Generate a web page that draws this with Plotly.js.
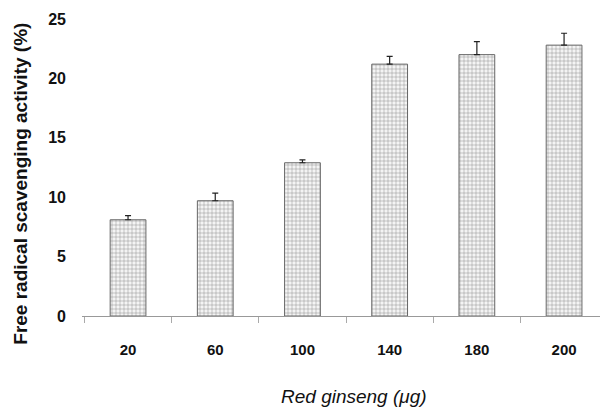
<!DOCTYPE html>
<html>
<head>
<meta charset="utf-8">
<script src="https://cdn.plot.ly/plotly-3.0.1.min.js"></script>
<style>html,body{margin:0;padding:0;background:#fff;}#chart{width:600px;height:407px;}</style>
</head>
<body>
<div id="chart"></div>
<script>
const categories = ["20", "60", "100", "140", "180", "200"];
const activity = [8.1, 9.7, 12.9, 21.2, 22.0, 22.8];
const errorUp = [0.35, 0.65, 0.25, 0.65, 1.1, 1.0];
const yTicks = [0, 5, 10, 15, 20, 25];
const xTitle = "Red ginseng (μg)";
const yTitle = "Free radical scavenging activity (%)";

const trace = {
  type: "bar",
  x: categories,
  y: activity,
  width: 0.41,
  marker: {
    color: "#f2f2f2",
    line: {color: "#666", width: 1},
    pattern: {shape: "+", fgcolor: "#8a8a8a", bgcolor: "#f4f4f4", size: 4, solidity: 0.22}
  },
  error_y: {
    type: "data",
    symmetric: false,
    array: errorUp,
    arrayminus: errorUp.map(() => 0),
    color: "#222",
    thickness: 1.2,
    width: 3
  },
  hoverinfo: "skip"
};

const layout = {
  width: 600,
  height: 407,
  margin: {l: 82, r: 0, t: 19, b: 91},
  paper_bgcolor: "#fff",
  plot_bgcolor: "#fff",
  showlegend: false,
  font: {family: "Liberation Sans, Arial, sans-serif", color: "#111"},
  xaxis: {
    type: "category",
    range: [-0.528, 5.412],
    showgrid: false,
    zeroline: false,
    showline: true,
    linecolor: "#999",
    linewidth: 1,
    ticks: "outside",
    tickson: "boundaries",
    ticklen: 6,
    tickcolor: "#aaa",
    ticklabelstandoff: 20,
    tickfont: {size: 15, family: "Liberation Sans, Arial, sans-serif", weight: "bold"},
    automargin: false
  },
  yaxis: {
    range: [0, 25],
    tickvals: yTicks,
    ticktext: yTicks.map(String),
    showgrid: false,
    zeroline: false,
    showline: false,
    ticks: "",
    ticklabelstandoff: 15,
    tickfont: {size: 16, family: "Liberation Sans, Arial, sans-serif", weight: "bold"},
    automargin: false
  },
  annotations: [
    {
      text: "<i>" + xTitle + "</i>",
      xref: "paper", yref: "paper",
      x: 0.525, y: -0.272,
      xanchor: "center", yanchor: "middle",
      showarrow: false,
      font: {size: 19, family: "Liberation Sans, Arial, sans-serif", color: "#111"}
    },
    {
      text: "<b>" + yTitle + "</b>",
      xref: "paper", yref: "paper",
      x: -0.118, y: 0.445,
      xanchor: "center", yanchor: "middle",
      textangle: -90,
      showarrow: false,
      font: {size: 19, family: "Liberation Sans, Arial, sans-serif", color: "#111"}
    }
  ]
};

Plotly.newPlot("chart", [trace], layout, {staticPlot: true, displayModeBar: false});
</script>
</body>
</html>
